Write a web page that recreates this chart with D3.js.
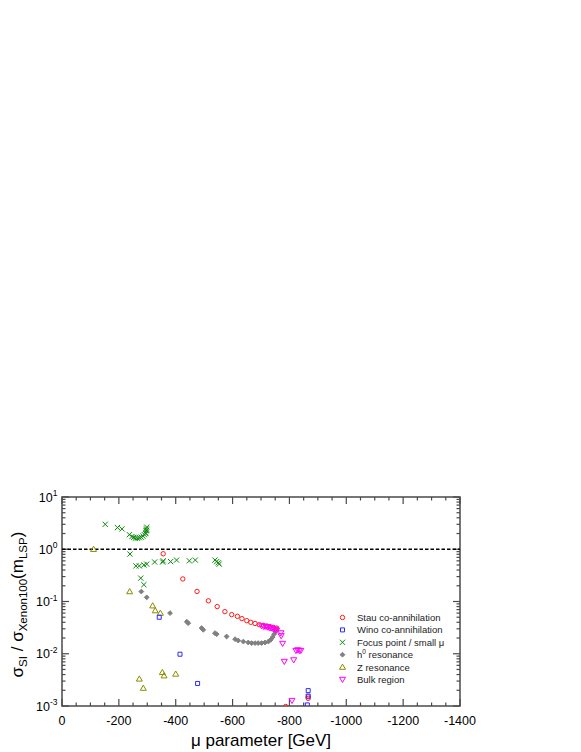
<!DOCTYPE html>
<html><head><meta charset="utf-8">
<script src="https://cdn.jsdelivr.net/npm/d3@7/dist/d3.min.js"></script>
<style>body{margin:0;background:#fff;} svg{display:block;font-family:"Liberation Sans",Arial,sans-serif;}</style>
</head><body>
<script>
// ---- data (mu parameter [GeV], sigma_SI / sigma_Xenon100) ----
const stauData = [[-356,0.82],[-425,0.27],[-475,0.156],[-515,0.103],[-546,0.080],[-573,0.064],[-597,0.056],[-617,0.052],[-633,0.047],[-650,0.043],[-664,0.040],[-679,0.038],[-694,0.036],[-708,0.035],[-720,0.034],[-732,0.033],[-743,0.032],[-755,0.031],[-787,0.00098],[-866,0.0015],[-866,0.0014]];
const winoData = [[-342,0.050],[-415,0.0098],[-477,0.0027],[-866,0.00197],[-866,0.00155],[-863,0.00105]];
const focusData = [[-152,3.0],[-195,2.6],[-211,2.45],[-237,1.9],[-246,1.75],[-252,1.68],[-258,1.63],[-265,1.63],[-272,1.66],[-279,1.70],[-285,1.78],[-290,1.9],[-294,2.05],[-296,2.25],[-297,2.45],[-298,2.65],[-298,2.3],[-295,2.0],[-239,0.81],[-260,0.48],[-272,0.48],[-288,0.50],[-298,0.52],[-326,0.57],[-354,0.57],[-356,0.60],[-382,0.58],[-403,0.62],[-448,0.60],[-469,0.62],[-538,0.62],[-544,0.58],[-550,0.55],[-553,0.52],[-277,0.28],[-288,0.21]];
const h0Data = [[-279,0.155],[-298,0.12],[-380,0.060],[-439,0.041],[-444,0.0385],[-491,0.031],[-497,0.0287],[-538,0.0248],[-544,0.0237],[-579,0.0214],[-609,0.019],[-620,0.0179],[-638,0.0171],[-655,0.0164],[-667,0.016],[-679,0.016],[-690,0.016],[-702,0.016],[-714,0.0164],[-726,0.0171],[-734,0.0185],[-741,0.0208],[-746,0.0237],[-750,0.0266],[-753,0.0287]];
const zData = [[-111,1.0],[-238,0.155],[-319,0.083],[-328,0.067],[-346,0.060],[-272,0.0033],[-286,0.0022],[-353,0.0044],[-359,0.0038],[-400,0.0041]];
const bulkData = [[-702,0.034],[-710,0.033],[-718,0.033],[-725,0.032],[-732,0.031],[-738,0.031],[-744,0.030],[-750,0.029],[-755,0.028],[-770,0.025],[-771,0.022],[-776,0.0157],[-782,0.0071],[-815,0.0076],[-823,0.0115],[-829,0.0118],[-835,0.0115],[-840,0.0115],[-809,0.00127]];

const xTickValues = [0,-200,-400,-600,-800,-1000,-1200,-1400];
const yTickExponents = [-3,-2,-1,0,1];
const legendLabels = ["Stau co-annihilation","Wino co-annihilation","Focus point / small μ","h0 resonance","Z resonance","Bulk region"];
const xlabel = "μ parameter [GeV]";

// ---- layout ----
const W = 581, H = 752;
const L = 62, R = 460, T = 497, B = 706;
const svg = d3.select("body").append("svg").attr("width", W).attr("height", H);

const x = d3.scaleLinear().domain([0, -1400]).range([L, R]);
const y = d3.scaleLog().domain([1e-3, 10]).range([B, T]);

svg.append("defs").append("clipPath").attr("id","clip")
  .append("rect").attr("x",L).attr("y",T).attr("width",R-L).attr("height",B-T);

const axisColor = "#4a4a4a";

// ticks (inward, mirrored)
const tg = svg.append("g").attr("stroke", axisColor).attr("stroke-width", 1.2);
d3.range(0, -1401, -50).forEach(v => {
  const major = v % 200 === 0;
  const len = major ? 7 : 3.5;
  tg.append("line").attr("x1", x(v)).attr("x2", x(v)).attr("y1", B).attr("y2", B - len);
  tg.append("line").attr("x1", x(v)).attr("x2", x(v)).attr("y1", T).attr("y2", T + len);
});
for (let e = -3; e < 1; e++) {
  for (let m = 1; m <= 9; m++) {
    const v = m * Math.pow(10, e);
    const len = m === 1 ? 7 : 3.5;
    tg.append("line").attr("x1", L).attr("x2", L + len).attr("y1", y(v)).attr("y2", y(v));
    tg.append("line").attr("x1", R).attr("x2", R - len).attr("y1", y(v)).attr("y2", y(v));
  }
}
tg.append("line").attr("x1", L).attr("x2", L + 7).attr("y1", y(10)).attr("y2", y(10));
tg.append("line").attr("x1", R).attr("x2", R - 7).attr("y1", y(10)).attr("y2", y(10));

// frame
svg.append("rect").attr("x", L).attr("y", T).attr("width", R - L).attr("height", B - T)
  .attr("fill", "none").attr("stroke", axisColor).attr("stroke-width", 1.5);

// x tick labels
svg.append("g").selectAll("text").data(xTickValues).join("text")
  .attr("x", d => x(d)).attr("y", B + 19).attr("text-anchor", "middle")
  .attr("font-size", 12.5).attr("fill", "#000").text(d => d);

// y tick labels
const yl = svg.append("g");
yTickExponents.forEach(e => {
  const t = yl.append("text").attr("x", 57.5).attr("y", y(Math.pow(10, e)) + 4.5)
    .attr("text-anchor", "end").attr("font-size", 12.5).attr("fill", "#000");
  t.append("tspan").text("10");
  t.append("tspan").attr("font-size", 8.5).attr("dy", -5.5).text(e);
});

// dashed reference line at 1
svg.append("line").attr("x1", L).attr("x2", R).attr("y1", y(1)).attr("y2", y(1))
  .attr("stroke", "#000").attr("stroke-width", 1.5).attr("stroke-dasharray", "3.5,2");

// markers
const shapes = {
  circle: "M2.2,0A2.2,2.2 0 1,1 -2.2,0A2.2,2.2 0 1,1 2.2,0Z",
  square: "M-2,-2H2V2H-2Z",
  cross: "M-2.6,-2.6L2.6,2.6M-2.6,2.6L2.6,-2.6",
  diamond: "M0,-2.4L2.4,0L0,2.4L-2.4,0Z",
  triUp: "M0,-3L3,2.2H-3Z",
  triDown: "M0,3L3,-2.2H-3Z"
};
const series = [
  {data: stauData, shape: "circle", color: "#ff1a1a", fill: "none"},
  {data: winoData, shape: "square", color: "#2a2aff", fill: "none"},
  {data: focusData, shape: "cross", color: "#0a8a0a", fill: "none"},
  {data: h0Data, shape: "diamond", color: "#808080", fill: "#808080"},
  {data: zData, shape: "triUp", color: "#8c8c00", fill: "none"},
  {data: bulkData, shape: "triDown", color: "#ff00ff", fill: "none"}
];
const pg = svg.append("g").attr("clip-path", "url(#clip)");
// draw order: focus, h0, z, stau, wino, bulk
[2,3,4,0,1,5].forEach(i => {
  const s = series[i];
  pg.append("g").selectAll("path").data(s.data).join("path")
    .attr("d", shapes[s.shape])
    .attr("transform", d => `translate(${x(d[0])},${y(d[1])})`)
    .attr("fill", s.fill).attr("stroke", s.color).attr("stroke-width", 1);
});

// legend
const lg = svg.append("g");
series.forEach((s, i) => {
  const ly = 617.5 + i * 12.4;
  lg.append("path").attr("d", shapes[s.shape])
    .attr("transform", `translate(342.5,${ly})`)
    .attr("fill", s.fill).attr("stroke", s.color).attr("stroke-width", 1);
  const t = lg.append("text").attr("x", 357).attr("y", ly + 3.4)
    .attr("font-size", 9.5).attr("fill", "#222");
  if (legendLabels[i].startsWith("h0")) {
    t.append("tspan").text("h");
    t.append("tspan").attr("font-size", 6.5).attr("dy", -4).text("0");
    t.append("tspan").attr("dy", 4).text(legendLabels[i].slice(2));
  } else {
    t.text(legendLabels[i]);
  }
});

// x axis title
svg.append("text").attr("x", (L + R) / 2).attr("y", 746).attr("text-anchor", "middle")
  .attr("font-size", 17).attr("fill", "#000").text(xlabel);

// y axis title
const yt = svg.append("text").attr("transform", `translate(23,${(T + B) / 2 + 3}) rotate(-90)`)
  .attr("text-anchor", "middle").attr("font-size", 17).attr("fill", "#000");
yt.append("tspan").text("σ");
yt.append("tspan").attr("font-size", 11.5).attr("dy", 4).text("SI");
yt.append("tspan").attr("dy", -4).text(" / σ");
yt.append("tspan").attr("font-size", 11.5).attr("dy", 4).text("Xenon100");
yt.append("tspan").attr("dy", -4).text("(m");
yt.append("tspan").attr("font-size", 11.5).attr("dy", 4).text("LSP");
yt.append("tspan").attr("dy", -4).text(")");
</script>
</body></html>
